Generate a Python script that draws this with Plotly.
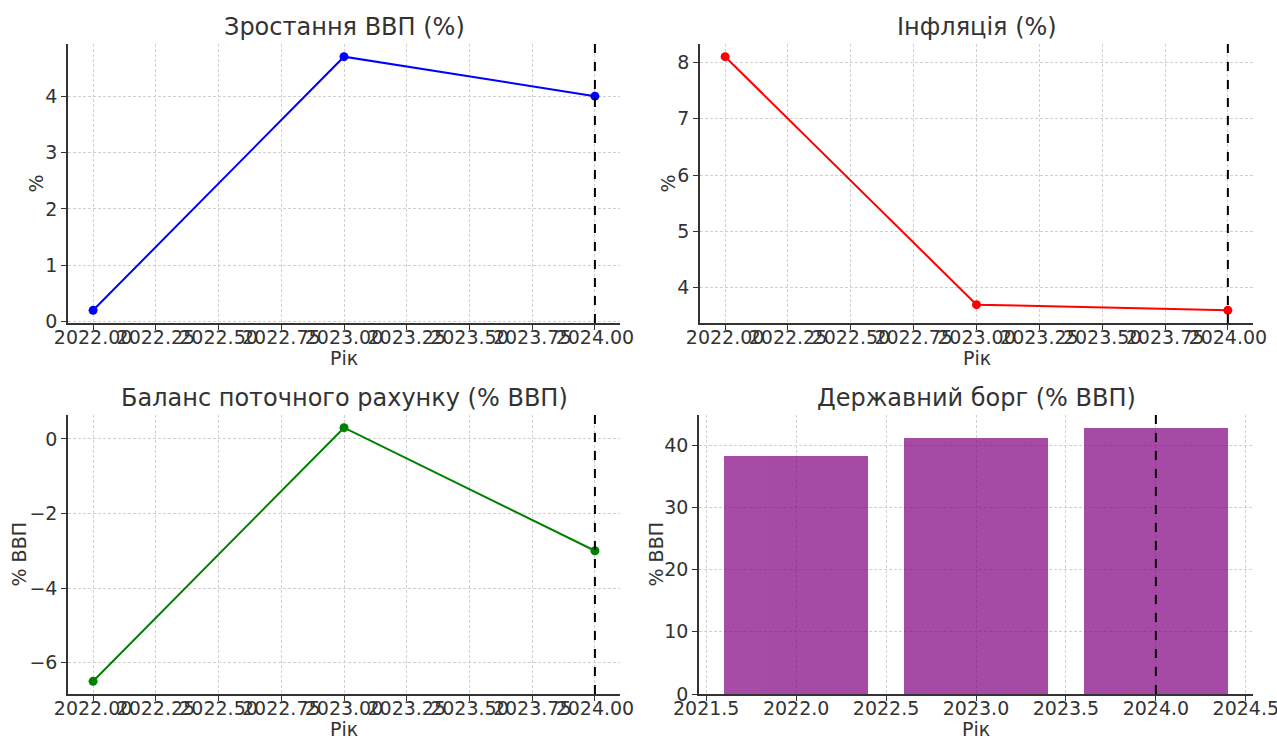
import plotly.graph_objects as go

# data
years = [2022, 2023, 2024]
gdp_growth = [0.2, 4.7, 4.0]
inflation = [8.1, 3.7, 3.6]
current_account = [-6.5, 0.3, -3.0]
public_debt = [38.3, 41.1, 42.7]
forecast_year = 2024

titles = ["Зростання ВВП (%)", "Інфляція (%)", "Баланс поточного рахунку (% ВВП)", "Державний борг (% ВВП)"]
y_labels = ["%", "%", "% ВВП", "% ВВП"]
x_label = "Рік"

line_ticks = [2022.0, 2022.25, 2022.5, 2022.75, 2023.0, 2023.25, 2023.5, 2023.75, 2024.0]
bar_ticks = [2021.5, 2022.0, 2022.5, 2023.0, 2023.5, 2024.0, 2024.5]

TEXT = "#333333"
GRID = "#d0d0d0"
W, H = 1277, 738

fig = go.Figure()

# line panels
for i, (vals, color) in enumerate([(gdp_growth, "blue"), (inflation, "red"), (current_account, "green")]):
    n = "" if i == 0 else str(i + 1)
    fig.add_trace(
        go.Scatter(
            x=years, y=vals, mode="lines+markers",
            line=dict(color=color, width=2),
            marker=dict(color=color, size=9),
            xaxis="x" + n, yaxis="y" + n, showlegend=False, cliponaxis=False,
        )
    )

# bar panel
fig.add_trace(
    go.Bar(
        x=years, y=public_debt, width=0.8,
        marker=dict(color="purple", line=dict(width=0)),
        opacity=0.7, xaxis="x4", yaxis="y4", showlegend=False,
    )
)

# panel boxes in pixels (left, right, top, bottom)
boxes = [(68, 620, 44, 323), (700, 1253, 44, 323), (68, 620, 415, 694), (699, 1253, 415, 694)]
# x centre of the rotated y titles
ytitle_x = [35, 667, 18, 655]

def pad(lo, hi, m=0.05):
    d = (hi - lo) * m
    return [lo - d, hi + d]

y_ranges = [
    pad(min(gdp_growth), max(gdp_growth)),
    pad(min(inflation), max(inflation)),
    pad(min(current_account), max(current_account)),
    [0, max(public_debt) * 1.05],
]
x_ranges = [pad(2022, 2024), pad(2022, 2024), pad(2022, 2024), pad(2021.6, 2024.4)]
y_dticks = [1, 1, 2, 10]

layout = {}
for i, (l, r, t, b) in enumerate(boxes):
    n = "" if i == 0 else str(i + 1)
    ticks = bar_ticks if i == 3 else line_ticks
    fmt = "{:.1f}" if i == 3 else "{:.2f}"
    common = dict(
        showline=True, linecolor=TEXT, linewidth=1.5, mirror=False,
        ticks="outside", ticklen=5, tickcolor=TEXT, tickwidth=1.2,
        showgrid=True, gridcolor=GRID, griddash="3px,2px", gridwidth=1,
        zeroline=False, tickfont=dict(size=19, color=TEXT),
        automargin=False, ticklabeloverflow="allow",
    )
    layout["xaxis" + n] = dict(
        common, domain=[l / W, r / W], anchor="y" + n, range=x_ranges[i],
        tickmode="array", tickvals=ticks, ticktext=[fmt.format(v) for v in ticks],
        tickangle=0, ticklabelstandoff=-9,
    )
    layout["yaxis" + n] = dict(
        common, domain=[1 - b / H, 1 - t / H], anchor="x" + n, range=y_ranges[i],
        dtick=y_dticks[i],
    )
    # panel title
    fig.add_annotation(
        text=titles[i], x=(l + r) / 2 / W, y=1 - (t - 1) / H,
        xref="paper", yref="paper", xanchor="center", yanchor="bottom",
        showarrow=False, font=dict(size=24, color=TEXT),
    )
    # axis titles
    fig.add_annotation(
        text=x_label, x=(l + r) / 2 / W, y=1 - (b + 35) / H,
        xref="paper", yref="paper", xanchor="center", yanchor="middle",
        showarrow=False, font=dict(size=19, color=TEXT),
    )
    fig.add_annotation(
        text=y_labels[i], x=ytitle_x[i] / W, y=1 - (t + b) / 2 / H, textangle=-90,
        xref="paper", yref="paper", xanchor="center", yanchor="middle",
        showarrow=False, font=dict(size=19, color=TEXT),
    )
    # forecast marker
    fig.add_shape(
        type="line", x0=forecast_year, x1=forecast_year, y0=0, y1=1,
        xref="x" + n, yref="y" + n + " domain",
        line=dict(color="black", width=2, dash="dash"),
    )

fig.update_layout(
    **layout,
    width=W, height=H,
    margin=dict(l=0, r=0, t=0, b=0),
    plot_bgcolor="white", paper_bgcolor="white",
    font=dict(family="DejaVu Sans", color=TEXT),
    bargap=0,
)

# drop the default page margin so the figure fills the window exactly
fig.write_html(
    "out.html",
    config={"displayModeBar": False},
    post_script="document.body.style.margin='0';",
)
